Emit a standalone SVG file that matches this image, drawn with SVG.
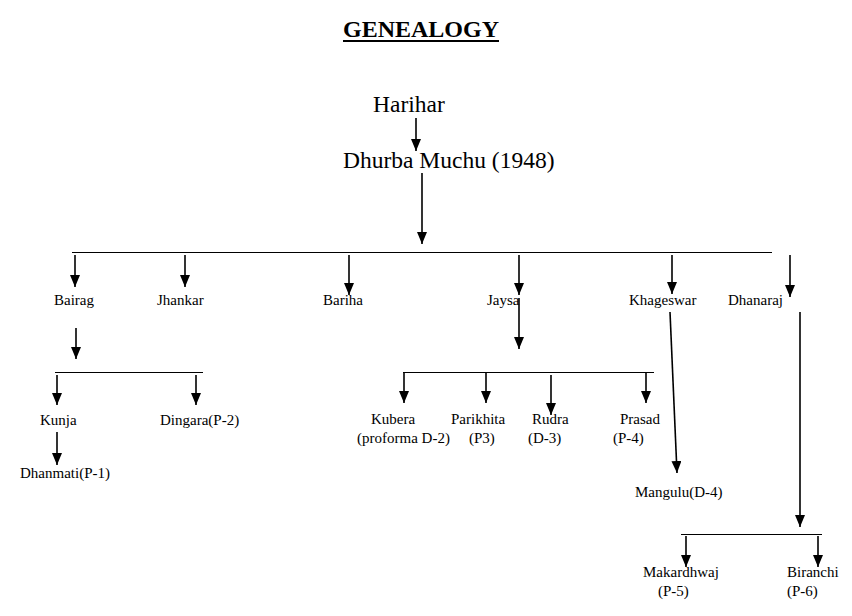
<svg xmlns="http://www.w3.org/2000/svg" width="852" height="616" viewBox="0 0 852 616" font-family="'Liberation Serif', 'Times New Roman', serif">
<defs>
<marker id="ah" markerUnits="userSpaceOnUse" markerWidth="13" markerHeight="11" refX="12" refY="5" orient="auto">
<path d="M0,0 L12,5 L0,10 z" fill="#000"/>
</marker>
<style>
text{font-family:"Liberation Serif","Times New Roman",serif;fill:#000}
.t{font-size:15px}
.b{font-size:23.5px}
.c line.a{stroke:#000;stroke-width:1.6;marker-end:url(#ah)}
.c line.h{stroke:#000;stroke-width:1}
</style>
</defs>
<rect width="852" height="616" fill="#fff"/>
<g id="title">
<text x="421" y="37" font-size="24" font-weight="bold" text-anchor="middle">GENEALOGY</text>
<line x1="343" y1="41" x2="499" y2="41" stroke="#000" stroke-width="2"/>
</g>
<g id="harihar"><text class="b" x="373" y="112">Harihar</text></g>
<g id="dhurba"><text class="b" x="343" y="168">Dhurba Muchu (1948)</text></g>
<g id="bairag"><text class="t" x="54" y="305">Bairag</text></g>
<g id="jhankar"><text class="t" x="157" y="305">Jhankar</text></g>
<g id="bariha"><text class="t" x="323" y="305">Bariha</text></g>
<g id="jaysa"><text class="t" x="487" y="305">Jaysa</text></g>
<g id="khageswar"><text class="t" x="629" y="305">Khageswar</text></g>
<g id="dhanaraj"><text class="t" x="728" y="305">Dhanaraj</text></g>
<g id="kunja"><text class="t" x="40" y="425">Kunja</text></g>
<g id="dingara"><text class="t" x="160" y="425">Dingara(P-2)</text></g>
<g id="dhanmati"><text class="t" x="20" y="478">Dhanmati(P-1)</text></g>
<g id="kubera"><text class="t" x="371" y="424">Kubera</text><text class="t" x="357" y="443">(proforma D-2)</text></g>
<g id="parikhita"><text class="t" x="451" y="424">Parikhita</text><text class="t" x="469" y="443">(P3)</text></g>
<g id="rudra"><text class="t" x="532" y="424">Rudra</text><text class="t" x="528" y="443">(D-3)</text></g>
<g id="prasad"><text class="t" x="620" y="424">Prasad</text><text class="t" x="613" y="443">(P-4)</text></g>
<g id="mangulu"><text class="t" x="635" y="497">Mangulu(D-4)</text></g>
<g id="makardhwaj"><text class="t" x="643" y="577">Makardhwaj</text><text class="t" x="658" y="596">(P-5)</text></g>
<g id="biranchi"><text class="t" x="787" y="577">Biranchi</text><text class="t" x="787" y="596">(P-6)</text></g>
<g id="connectors" class="c">
<line class="a" x1="416" y1="118" x2="416" y2="151"/>
<line class="a" x1="422" y1="173" x2="422" y2="244"/>
<line class="h" x1="72" y1="252.5" x2="772" y2="252.5"/>
<line class="a" x1="75" y1="255" x2="75" y2="287"/>
<line class="a" x1="185" y1="255" x2="185" y2="287"/>
<line class="a" x1="349" y1="255" x2="349" y2="295"/>
<line class="a" x1="519" y1="255" x2="519" y2="295"/>
<line class="a" x1="672" y1="255" x2="672" y2="294"/>
<line class="a" x1="790" y1="255" x2="790" y2="297"/>
<line class="a" x1="76" y1="328" x2="76" y2="359"/>
<line class="h" x1="55" y1="372.5" x2="203" y2="372.5"/>
<line class="a" x1="57" y1="375" x2="57" y2="405"/>
<line class="a" x1="196" y1="375" x2="196" y2="405"/>
<line class="a" x1="57" y1="432" x2="57" y2="465"/>
<line class="a" x1="519" y1="298" x2="519" y2="349"/>
<line class="h" x1="403" y1="372.5" x2="654" y2="372.5"/>
<line class="a" x1="404" y1="372" x2="404" y2="403"/>
<line class="a" x1="486" y1="372" x2="486" y2="403"/>
<line class="a" x1="551" y1="375" x2="551" y2="415"/>
<line class="a" x1="646" y1="372" x2="646" y2="403"/>
<line class="a" x1="670" y1="312" x2="677" y2="473"/>
<line class="a" x1="800" y1="312" x2="800" y2="527"/>
<line class="h" x1="681" y1="534.5" x2="822" y2="534.5"/>
<line class="a" x1="686" y1="536" x2="686" y2="567"/>
<line class="a" x1="818" y1="536" x2="818" y2="567"/>
</g>
</svg>
